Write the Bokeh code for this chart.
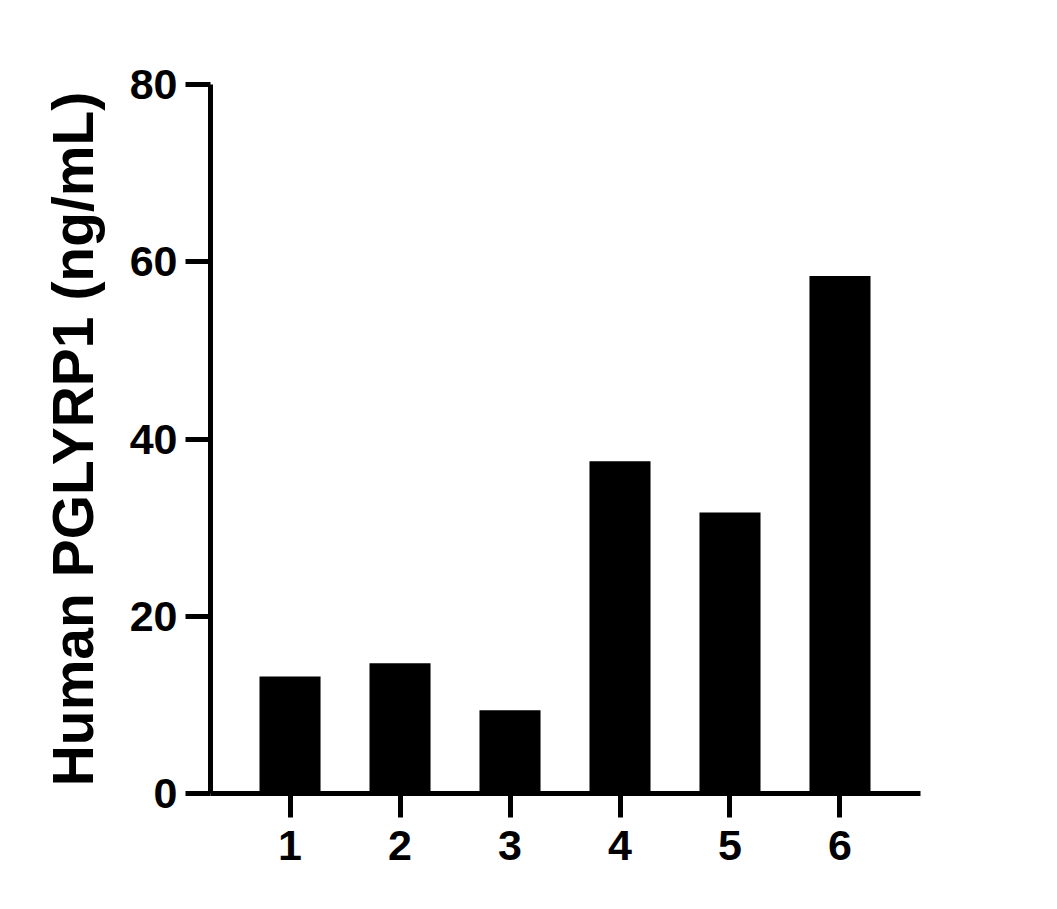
from bokeh.plotting import figure
from bokeh.models import Range1d, FixedTicker, ColumnDataSource
from bokeh.embed import file_html
from bokeh.resources import INLINE

categories = [1, 2, 3, 4, 5, 6]
values = [13.2, 14.7, 9.4, 37.5, 31.7, 58.4]
y_ticks = [0, 20, 40, 60, 80]
y_title = "Human PGLYRP1 (ng/mL)"

FONT = "Liberation Sans"

p = figure(
    output_backend="svg",
    toolbar_location=None,
    frame_width=710,
    frame_height=709,
    min_border_left=210,
    min_border_right=110,
    min_border_top=84,
    min_border_bottom=90,
    x_range=Range1d(0.277, 6.732),
    y_range=Range1d(0, 80),
    background_fill_color="white",
    border_fill_color="white",
)
p.outline_line_color = None
p.grid.visible = False

src = ColumnDataSource(dict(x=categories, top=values))
p.vbar(x="x", top="top", bottom=0, width=0.555, source=src,
       fill_color="black", line_color=None)

for ax in (p.xaxis[0], p.yaxis[0]):
    ax.axis_line_width = 5
    ax.axis_line_color = "black"
    ax.major_tick_line_width = 5
    ax.major_tick_line_color = "black"
    ax.major_tick_in = 0
    ax.minor_tick_line_color = None
    ax.major_label_text_font = FONT
    ax.major_label_text_font_style = "bold"
    ax.major_label_text_font_size = "43px"
    ax.major_label_text_color = "black"

p.xaxis[0].ticker = FixedTicker(ticks=categories)
p.xaxis[0].major_tick_out = 24
p.xaxis[0].major_label_standoff = 13

p.yaxis[0].ticker = FixedTicker(ticks=y_ticks)
p.yaxis[0].major_tick_out = 25
p.yaxis[0].major_label_standoff = 8
p.yaxis[0].axis_label = y_title
p.yaxis[0].axis_label_text_font = FONT
p.yaxis[0].axis_label_text_font_style = "bold"
p.yaxis[0].axis_label_text_font_size = "57px"
p.yaxis[0].axis_label_text_color = "black"
p.yaxis[0].axis_label_standoff = 22

open("out.html", "w").write(file_html(p, INLINE))
